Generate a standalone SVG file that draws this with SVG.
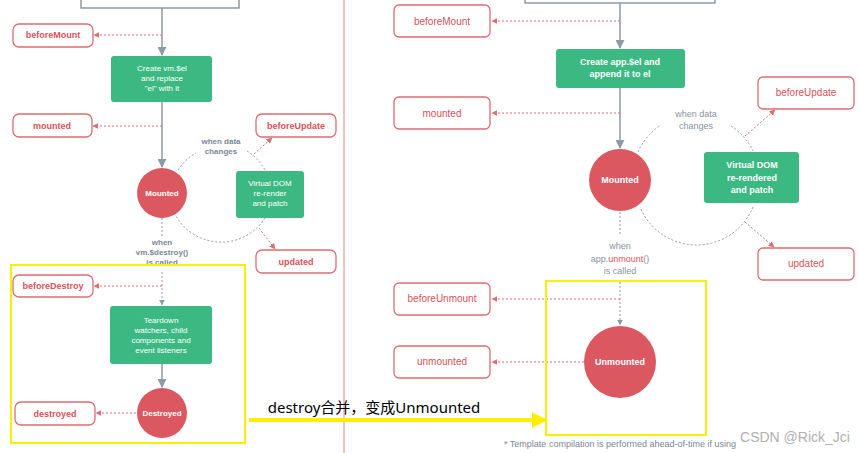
<svg xmlns="http://www.w3.org/2000/svg" width="859" height="453" viewBox="0 0 859 453">
<style>
text{font-family:"Liberation Sans",Arial,sans-serif;text-anchor:middle}
.hook{fill:#fff;stroke:#e06c72;stroke-width:1.3}
.ht{fill:#d9515a;font-size:9px;font-weight:bold}
.ht2{fill:#d9515a;font-size:10px}
.g{fill:#3cb982}
.gt{fill:#fff;font-size:8px}
.gt2{fill:#fff;font-size:9px;font-weight:bold}
.c{fill:#dc5860}
.ct{fill:#fff;font-size:8px;font-weight:bold}
.gl{stroke:#8e9aa6;stroke-width:1.5;fill:none}
.dl{stroke:#e06c72;stroke-width:1;stroke-dasharray:2,2;fill:none}
.gd{stroke:#8e9aa6;stroke-width:1;stroke-dasharray:2,2;fill:none}
.lbl{fill:#7b8794;font-size:8px;font-weight:bold}
.lbl2{fill:#8a949e;font-size:9px}
.y{stroke:#ffee00;stroke-width:2;fill:none}
</style>
<defs>
<marker id="ar" viewBox="0 0 10 10" refX="9" refY="5" markerWidth="6" markerHeight="6" orient="auto"><path d="M0,0L10,5L0,10z" fill="#e06c72"/></marker>
<marker id="ag" viewBox="0 0 10 10" refX="9" refY="5" markerWidth="6" markerHeight="6" orient="auto"><path d="M0,0L10,5L0,10z" fill="#8e9aa6"/></marker>
<marker id="ay" viewBox="0 0 10 10" refX="9" refY="5" markerWidth="4" markerHeight="5" orient="auto"><path d="M0,0L10,5L0,10z" fill="#ffee00"/></marker>
</defs>
<rect width="859" height="453" fill="#fff"/>
<line x1="344" y1="0" x2="344" y2="453" stroke="#d98a7c" stroke-width="1"/>
<g id="connectors">
<path class="gl" d="M81,0V8H239V0M525,0V3H715V0"/>
<line class="gl" x1="162" y1="8" x2="162" y2="55" marker-end="url(#ag)"/>
<line class="gl" x1="162" y1="102" x2="162" y2="167" marker-end="url(#ag)"/>
<line class="gd" x1="162" y1="218" x2="162" y2="236"/>
<line class="gd" x1="162" y1="272" x2="162" y2="305" marker-end="url(#ag)"/>
<line class="gl" x1="162" y1="364" x2="162" y2="387" marker-end="url(#ag)"/>
<line class="dl" x1="162" y1="35" x2="94" y2="35" marker-end="url(#ar)"/>
<line class="dl" x1="162" y1="126" x2="93" y2="126" marker-end="url(#ar)"/>
<line class="dl" x1="162" y1="286" x2="94" y2="286" marker-end="url(#ar)"/>
<line class="dl" x1="136" y1="413" x2="96" y2="413" marker-end="url(#ar)"/>
<path class="gd" d="M178,170A52,52 0 0 1 196,153M247,151A52,52 0 0 1 265,170M265,218A52,52 0 0 1 176,216"/>
<line class="dl" x1="254" y1="154" x2="272" y2="138" marker-end="url(#ar)"/>
<line class="dl" x1="259" y1="228" x2="275" y2="249" marker-end="url(#ar)"/>
<line class="gl" x1="620" y1="3" x2="620" y2="48" marker-end="url(#ag)"/>
<line class="gl" x1="620" y1="88" x2="620" y2="148" marker-end="url(#ag)"/>
<line class="gd" x1="620" y1="212" x2="620" y2="236"/>
<line class="gd" x1="620" y1="282" x2="620" y2="325" marker-end="url(#ag)"/>
<line class="dl" x1="620" y1="21" x2="492" y2="21" marker-end="url(#ar)"/>
<line class="dl" x1="620" y1="113" x2="492" y2="113" marker-end="url(#ar)"/>
<line class="dl" x1="620" y1="299" x2="492" y2="299" marker-end="url(#ar)"/>
<line class="dl" x1="584" y1="362" x2="492" y2="362" marker-end="url(#ar)"/>
<path class="gd" d="M638,152A61,61 0 0 1 661,125M731,126A61,61 0 0 1 753,151M753,207A61,61 0 0 1 640,207"/>
<line class="dl" x1="745" y1="136" x2="775" y2="110" marker-end="url(#ar)"/>
<line class="dl" x1="745" y1="222" x2="774" y2="247" marker-end="url(#ar)"/>
<line x1="249" y1="420" x2="546" y2="420" stroke="#ffee00" stroke-width="4" marker-end="url(#ay)"/>
</g>
<g id="beforeMount"><rect class="hook" x="13" y="24" width="80" height="23" rx="6"/><text class="ht" x="53" y="38">beforeMount</text></g>
<g id="createEl"><rect class="g" x="111" y="56" width="101" height="46" rx="3"/><text class="gt" x="162" y="71">Create vm.$el</text><text class="gt" x="162" y="81">and replace</text><text class="gt" x="162" y="91">"el" with it</text></g>
<g id="mounted"><rect class="hook" x="13" y="114" width="79" height="23" rx="6"/><text class="ht" x="52" y="129">mounted</text></g>
<g id="beforeUpdate"><rect class="hook" x="256" y="114" width="80" height="23" rx="6"/><text class="ht" x="296" y="129">beforeUpdate</text></g>
<g id="whenData"><text class="lbl" x="221" y="144">when data</text><text class="lbl" x="221" y="154">changes</text></g>
<g id="MountedC"><circle class="c" cx="162" cy="193" r="25"/><text class="ct" x="162" y="196">Mounted</text></g>
<g id="vdom"><rect class="g" x="236" y="171" width="68" height="47" rx="3"/><text class="gt" x="270" y="186">Virtual DOM</text><text class="gt" x="270" y="196">re-render</text><text class="gt" x="270" y="206">and patch</text></g>
<g id="updated"><rect class="hook" x="256" y="250" width="80" height="23" rx="6"/><text class="ht" x="296" y="265">updated</text></g>
<g id="whenDestroy"><text class="lbl" x="162" y="245">when</text><text class="lbl" x="162" y="255">vm.$destroy()</text><text class="lbl" x="162" y="265">is called</text></g>
<g id="beforeDestroy"><rect class="hook" x="13" y="275" width="80" height="22" rx="6"/><text class="ht" x="53" y="289">beforeDestroy</text></g>
<g id="teardown"><rect class="g" x="110" y="306" width="102" height="58" rx="3"/><text class="gt" x="161" y="323">Teardown</text><text class="gt" x="161" y="333">watchers, child</text><text class="gt" x="161" y="343">components and</text><text class="gt" x="161" y="353">event listeners</text></g>
<g id="DestroyedC"><circle class="c" cx="162" cy="413" r="25"/><text class="ct" x="162" y="416">Destroyed</text></g>
<g id="destroyed"><rect class="hook" x="15" y="402" width="80" height="23" rx="6"/><text class="ht" x="55" y="417">destroyed</text></g>
<rect class="y" x="11" y="265" width="234" height="178"/>
<text x="374" y="413" style="font-family:'Noto Sans','Noto Sans CJK SC',sans-serif;font-size:15px;fill:#000">destroy合并，变成Unmounted</text>
<g id="beforeMount2"><rect class="hook" x="394" y="5" width="96" height="32" rx="5"/><text class="ht2" x="442" y="25">beforeMount</text></g>
<g id="createApp"><rect class="g" x="556" y="49" width="129" height="39" rx="3"/><text class="gt2" x="620" y="65">Create app.$el and</text><text class="gt2" x="620" y="77">append it to el</text></g>
<g id="mounted2"><rect class="hook" x="394" y="97" width="96" height="32" rx="5"/><text class="ht2" x="442" y="117">mounted</text></g>
<g id="beforeUpdate2"><rect class="hook" x="758" y="77" width="96" height="32" rx="5"/><text class="ht2" x="806" y="96">beforeUpdate</text></g>
<g id="whenData2"><text class="lbl2" x="696" y="117">when data</text><text class="lbl2" x="696" y="129">changes</text></g>
<g id="MountedC2"><circle class="c" cx="620" cy="180" r="31"/><text class="gt2" x="620" y="183">Mounted</text></g>
<g id="vdom2"><rect class="g" x="704" y="152" width="95" height="51" rx="3"/><text class="gt2" x="752" y="168">Virtual DOM</text><text class="gt2" x="752" y="181">re-rendered</text><text class="gt2" x="752" y="193">and patch</text></g>
<g id="updated2"><rect class="hook" x="758" y="248" width="96" height="32" rx="5"/><text class="ht2" x="806" y="267">updated</text></g>
<g id="whenUnmount"><text class="lbl2" x="620" y="249">when</text><text class="lbl2" x="620" y="262">app.<tspan fill="#d9515a">unmount</tspan>()</text><text class="lbl2" x="620" y="274">is called</text></g>
<g id="beforeUnmount"><rect class="hook" x="394" y="283" width="96" height="32" rx="5"/><text class="ht2" x="442" y="302">beforeUnmount</text></g>
<g id="UnmountedC"><circle class="c" cx="620" cy="362" r="36"/><text class="gt2" x="620" y="365">Unmounted</text></g>
<g id="unmounted"><rect class="hook" x="394" y="346" width="96" height="32" rx="5"/><text class="ht2" x="442" y="365">unmounted</text></g>
<rect class="y" x="546" y="281" width="160" height="154"/>
<text x="620" y="447" style="font-size:9px;fill:#7b8794">* Template compilation is performed ahead-of-time if using</text>
<text x="795" y="442" style="font-size:14px;fill:#b0b0b0">CSDN @Rick_Jci</text>
</svg>
